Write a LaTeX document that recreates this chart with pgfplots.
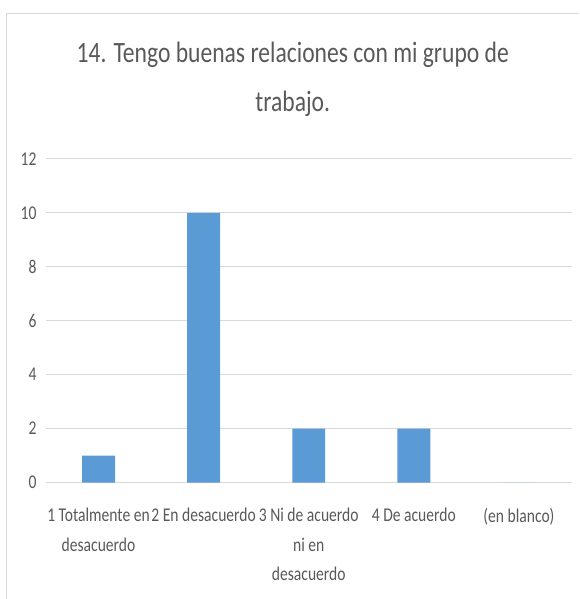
\documentclass[border=0pt]{standalone}
\usepackage{pgfplots}
\pgfplotsset{compat=1.18}
\usepackage{fontspec}
\setmainfont[FakeStretch=0.8]{Carlito}
\definecolor{barblue}{HTML}{5B9BD5}
\definecolor{txtgray}{HTML}{595959}
\definecolor{gridgray}{HTML}{D9D9D9}

\begin{document}
\begin{tikzpicture}
% axis box: 526 x 324, its lower left corner at (0,0); page is 579 x 599
\begin{axis}[
    at={(0pt,0pt)}, anchor=south west,
    width=526pt, height=324pt, scale only axis,
    xmin=-0.5, xmax=4.5,
    ymin=0, ymax=12,
    ytick={0,2,...,12},
    xtick={0,1,2,3,4},
    xticklabels={{1 Totalmente en\\desacuerdo},{2 En desacuerdo},{3 Ni de acuerdo\\ni en\\desacuerdo},{4 De acuerdo},{(en blanco)}},
    axis line style={draw=none},
    major tick length=0pt,
    ymajorgrids,
    grid style={gridgray,line width=1pt},
    /pgf/number format/assume math mode=true,
    yticklabel style={text=txtgray,font=\fontsize{19.5}{24}\selectfont,xshift=-6pt},
    xticklabel style={text=txtgray,align=center,font=\fontsize{19.5}{29.5}\selectfont,yshift=-22pt},
    ybar, bar width=33pt,
]
\addplot[fill=barblue,draw=none] coordinates {
    (0,1)
    (1,10)
    (2,2)
    (3,2)
    (4,0)
};
\end{axis}

% page frame and chart border
\path (-46pt,-116pt) rectangle (533pt,483pt);
\draw[gridgray,line width=1pt] (-39pt,-116pt) -- (-39pt,469pt) -- (533pt,469pt);

% title
\node[anchor=base,text=txtgray,font=\fontsize{29.5}{36}\selectfont] at (247pt,420pt)
  {14. Tengo buenas relaciones con mi grupo de};
\node[anchor=base,text=txtgray,font=\fontsize{29.5}{36}\selectfont] at (247pt,371pt)
  {trabajo.};
\end{tikzpicture}
\end{document}
